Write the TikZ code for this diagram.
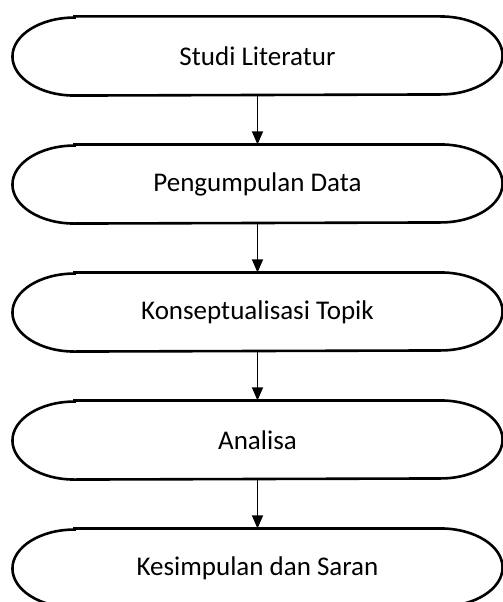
\documentclass[tikz,border=0pt]{standalone}
\usepackage{fontspec}
\setmainfont{Carlito}
\usetikzlibrary{arrows.meta}

\begin{document}
\begin{tikzpicture}[->,>={Triangle[width=11pt,length=13pt]},line width=1.1pt,node distance=128pt,main node/.style={minimum width=489pt,minimum height=78pt,font=\fontsize{27}{32}\selectfont,text=black}]

  \useasboundingbox (0,0) rectangle (503pt,-602pt);

  \node[main node] (1) at (257.5pt,-56pt) {Studi Literatur};
  \node[main node] (2) [below of=1] {Pengumpulan Data};
  \node[main node] (3) [below of=2] {Konseptualisasi Topik};
  \node[main node] (4) [below of=3] {Analisa};
  \node[main node] (5) [below of=4] {Kesimpulan dan Saran};

  % terminator outlines with flat elliptic ends
  \foreach \n in {1,...,5}
    \draw[-,line width=2.6pt] ([xshift=62pt]\n.north west) -- ([xshift=-62pt]\n.north east)
      arc[start angle=90,end angle=-90,x radius=62pt,y radius=39pt]
      -- ([xshift=62pt]\n.south west)
      arc[start angle=270,end angle=90,x radius=62pt,y radius=39pt] -- cycle;

  \path (1) edge (2)
        (2) edge (3)
        (3) edge (4)
        (4) edge (5);

\end{tikzpicture}
\end{document}
